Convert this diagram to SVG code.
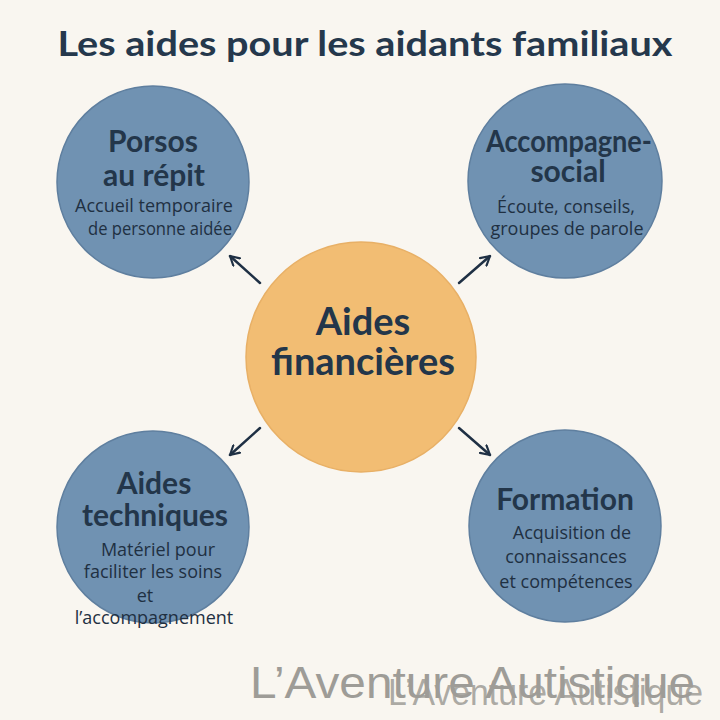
<svg xmlns="http://www.w3.org/2000/svg" width="720" height="720" viewBox="0 0 720 720">
<style>
.title{font-family:Lato,"Open Sans","Liberation Sans",sans-serif;font-weight:700;font-size:34px;fill:#25384c;text-anchor:middle}
.node{fill:#7092b2;stroke:#5f7f9f;stroke-width:1.5}
.hub{fill:#f2bd73;stroke:#e8b066;stroke-width:1.5}
.h{font-family:Lato,"Open Sans","Liberation Sans",sans-serif;font-weight:700;font-size:30px;fill:#23364a;text-anchor:middle}
.hc{font-family:Lato,"Open Sans","Liberation Sans",sans-serif;font-weight:700;font-size:38px;fill:#23364a;text-anchor:middle}
.d{font-family:"Open Sans",Lato,"Liberation Sans",sans-serif;font-weight:400;font-size:18px;fill:#1f3042;text-anchor:middle}
.conn line{stroke:#1f3044;stroke-width:2.5;stroke-linecap:round}
.wm{font-family:"Liberation Sans",Arial,sans-serif;fill:#9e9c97;text-anchor:start}
</style>
<defs>
<marker id="ah" viewBox="0 0 12 12" refX="10" refY="6" markerWidth="12" markerHeight="12" markerUnits="userSpaceOnUse" orient="auto">
<path d="M1,1 L10,6 L1,11" fill="none" stroke="#1f3044" stroke-width="2.2" stroke-linecap="round" stroke-linejoin="round"/>
</marker>
</defs>
<rect width="720" height="720" fill="#f9f6f0"/>
<text class="title" x="365" y="56" textLength="615" lengthAdjust="spacingAndGlyphs">Les aides pour les aidants familiaux</text>

<g class="conn">
<line x1="260" y1="283" x2="230" y2="256" marker-end="url(#ah)"/>
<line x1="459" y1="283" x2="490" y2="256" marker-end="url(#ah)"/>
<line x1="260" y1="428" x2="230" y2="455" marker-end="url(#ah)"/>
<line x1="459" y1="428" x2="490" y2="455" marker-end="url(#ah)"/>
</g>

<g id="center">
<circle class="hub" cx="361" cy="357" r="115"/>
<text class="hc" x="363" y="335">Aides</text>
<text class="hc" x="363" y="375">financières</text>
</g>

<g id="repit">
<circle class="node" cx="153" cy="182" r="96"/>
<text class="h" x="153" y="152">Porsos</text>
<text class="h" x="154" y="186">au répit</text>
<text class="d" x="154" y="212">Accueil temporaire</text>
<text class="d" x="160" y="235" textLength="144" lengthAdjust="spacingAndGlyphs">de personne aidée</text>
</g>

<g id="social">
<circle class="node" cx="565" cy="181" r="97"/>
<text class="h" x="569" y="152" textLength="166" lengthAdjust="spacingAndGlyphs">Accompagne-</text>
<text class="h" x="568" y="182">social</text>
<text class="d" x="566" y="213">Écoute, conseils,</text>
<text class="d" x="567" y="235">groupes de parole</text>
</g>

<g id="techniques">
<circle class="node" cx="153" cy="527" r="96"/>
<text class="h" x="154" y="494">Aides</text>
<text class="h" x="155" y="526">techniques</text>
<text class="d" x="158" y="556">Matériel pour</text>
<text class="d" x="153" y="578">faciliter les soins</text>
<text class="d" x="145" y="602">et</text>
<text class="d" x="154" y="624">l’accompagnement</text>
</g>

<g id="formation">
<circle class="node" cx="565" cy="526" r="96"/>
<text class="h" x="565" y="510">Formation</text>
<text class="d" x="572" y="539">Acquisition de</text>
<text class="d" x="566" y="563">connaissances</text>
<text class="d" x="566" y="588">et compétences</text>
</g>

<text class="wm" x="250" y="698" font-size="45" textLength="445" lengthAdjust="spacingAndGlyphs">L’Aventure Autistique</text>
<text class="wm" x="388" y="705" font-size="37" textLength="315" lengthAdjust="spacingAndGlyphs" fill-opacity="0.85">L’Aventure Autistique</text>
</svg>
